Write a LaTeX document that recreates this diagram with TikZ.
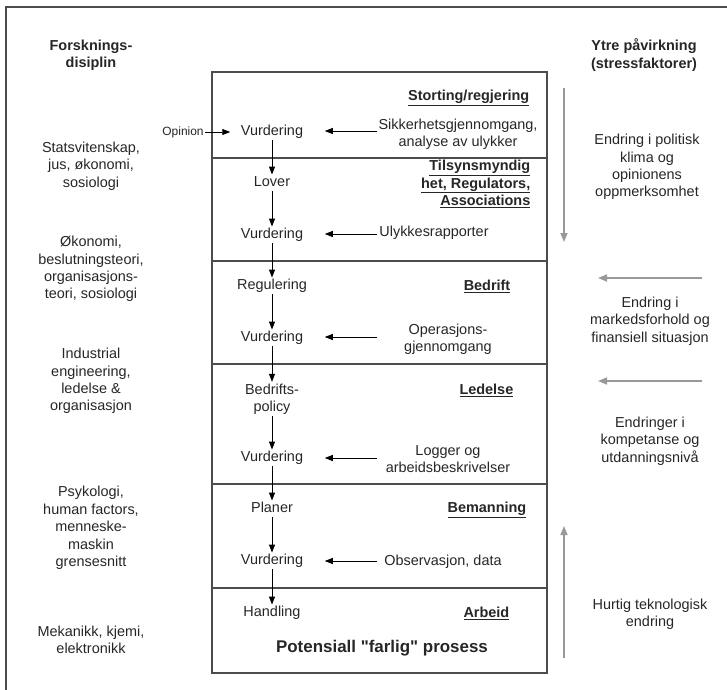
\documentclass[tikz,border=0pt]{standalone}
\usepackage{fontspec}
\setmainfont{Liberation Sans}[Ligatures=TeXOff]
\usetikzlibrary{arrows.meta}
\begin{document}
\begin{tikzpicture}[x=1bp,y=-1bp,
  txt/.style={inner sep=1.5bp,align=center,text=black!85,font=\fontsize{14.5}{17.5}\selectfont},
  lvl/.style={txt,text height=10.5bp,text depth=3bp},
  hd/.style={txt,font=\fontsize{14.5}{17.5}\selectfont\bfseries},
  org/.style={hd,align=right,anchor=east},
  small/.style={txt,font=\fontsize{12}{14}\selectfont},
  big/.style={txt,font=\fontsize{17}{20}\selectfont\bfseries},
  frame/.style={draw=black!70,line width=1.3bp},
  arr/.style={draw=black,line width=0.9bp,-{Triangle[length=8bp,width=6bp]}},
  garr/.style={draw=black!40,line width=1.6bp,-{Triangle[length=9bp,width=7bp]}}]
\useasboundingbox (0,0) rectangle (727,690);
% outer frame (left and top visible)
\draw[frame] (6,690) -- (6,7) -- (727,7);
% main box and dividers
\draw[frame] (212,72) rectangle (547,673);
\foreach \yy in {158,261,364,484,588} \draw[frame] (212,\yy) -- (547,\yy);
% headers
\node[hd] (hdrL) at (91,55) {Forsknings-\\disiplin};
\node[hd] (hdrR) at (644,55) {Ytre påvirkning\\(stressfaktorer)};
% central chain
\node[lvl] (v1) at (272,132) {Vurdering};
\node[lvl] (lov) at (272,183) {Lover};
\node[lvl] (v2) at (272,235) {Vurdering};
\node[lvl] (reg) at (272,286) {Regulering};
\node[lvl] (v3) at (272,338) {Vurdering};
\node[txt] (bp) at (272,399) {Bedrifts-\\policy};
\node[lvl] (v4) at (272,458) {Vurdering};
\node[lvl] (pla) at (272,509) {Planer};
\node[lvl] (v5) at (272,561) {Vurdering};
\node[lvl] (han) at (272,613) {Handling};
\foreach \a/\b in {v1/lov,lov/v2,v2/reg,reg/v3,v3/bp,bp/v4,v4/pla,pla/v5,v5/han}
  \draw[arr] (\a) -- (\b);
\node[big] (pot) at (382,648) {Potensiall "farlig" prosess};
% opinion
\node[small,inner sep=1bp] (opi) at (183,132) {Opinion};
\draw[arr,shorten >=9bp] (opi.east) -- (v1.west);
% organisational levels
\node[org] (o1) at (531,98) {\underline{Storting/regjering}};
\node[org] (o2) at (532,184) {\underline{Tilsynsmyndig}\\\underline{het, Regulators,}\\\underline{Associations}};
\node[org] (o3) at (512,286) {\underline{Bedrift}};
\node[org] (o4) at (515,390) {\underline{Ledelse}};
\node[org] (o5) at (528,510) {\underline{Bemanning}};
\node[org] (o6) at (511,613) {\underline{Arbeid}};
% inputs
\node[txt] (sik) at (458,134) {Sikkerhetsgjennomgang,\\analyse av ulykker};
\node[txt] (ulk) at (434,233) {Ulykkesrapporter};
\node[txt] (ope) at (448,339) {Operasjons-\\gjennomgang};
\node[txt] (log) at (448,459) {Logger og\\arbeidsbeskrivelser};
\node[txt] (obs) at (443,562) {Observasjon, data};
\coordinate (s1) at (377,131);
\coordinate (s2) at (377,234);
\coordinate (s3) at (377,337);
\coordinate (s4) at (377,458);
\coordinate (s5) at (377,561);
\draw[arr,shorten >=20bp] (s1) -- (v1.east |- s1);
\draw[arr,shorten >=20bp] (s2) -- (v2.east |- s2);
\draw[arr,shorten >=20bp] (s3) -- (v3.east |- s3);
\draw[arr,shorten >=20bp] (s4) -- (v4.east |- s4);
\draw[arr,shorten >=20bp] (s5) -- (v5.east |- s5);
% left disciplines
\node[txt] (l1) at (91,166) {Statsvitenskap,\\jus, økonomi,\\sosiologi};
\node[txt] (l2) at (91,269) {Økonomi,\\beslutningsteori,\\organisasjons-\\teori, sosiologi};
\node[txt] (l3) at (91,381) {Industrial\\engineering,\\ledelse \&\\organisasjon};
\node[txt] (l4) at (91,528) {Psykologi,\\human factors,\\menneske-\\maskin\\grensesnitt};
\node[txt] (l5) at (91,640) {Mekanikk, kjemi,\\elektronikk};
% right stress factors
\node[txt] (r1) at (647,167) {Endring i politisk\\klima og\\opinionens\\oppmerksomhet};
\node[txt] (r2) at (650,321) {Endring i\\markedsforhold og\\finansiell situasjon};
\node[txt] (r3) at (650,441) {Endringer i\\kompetanse og\\utdanningsnivå};
\node[txt] (r4) at (650,614) {Hurtig teknologisk\\endring};
\coordinate (ga1) at (564,88);  \coordinate (gb1) at (564,242);
\coordinate (ga2) at (702,278); \coordinate (gb2) at (598,278);
\coordinate (ga3) at (702,381); \coordinate (gb3) at (598,381);
\coordinate (ga4) at (564,658); \coordinate (gb4) at (564,526);
\draw[garr] (ga1) -- (gb1);
\draw[garr] (ga2) -- (gb2);
\draw[garr] (ga3) -- (gb3);
\draw[garr] (ga4) -- (gb4);
\end{tikzpicture}
\end{document}
